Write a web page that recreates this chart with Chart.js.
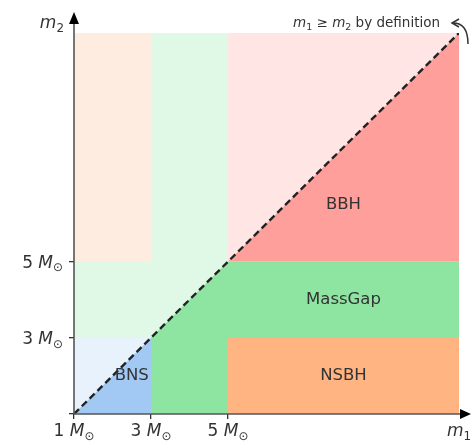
<!DOCTYPE html>
<html>
<head>
<meta charset="utf-8">
<script src="https://cdn.jsdelivr.net/npm/chart.js@4.4.0/dist/chart.umd.min.js"></script>
<style>
  body { margin: 0; background: #fff; }
</style>
</head>
<body>
<canvas id="massChart" width="471" height="441"></canvas>
<script>
// region edges in solar masses: lower limit, NS max, gap end, upper limit
const massEdges = [1, 3, 5, 11];
const tickValues = [1, 3, 5];
const categories = ['BNS', 'NSBH', 'MassGap', 'BBH'];
// where each category name sits (data units)
const labelX = [2.5, 8, 8, 8];
const labelY = [2, 2, 4, 6.5];

const pastel = { BNS: '#a1c9f4', NSBH: '#ffb482', MassGap: '#8de5a1', BBH: '#ff9f9b' };

function faded(hex, a) {
  const n = parseInt(hex.slice(1), 16);
  const c = [n >> 16, (n >> 8) & 255, n & 255].map(v => Math.round(v * a + 255 * (1 - a)));
  return `rgb(${c[0]},${c[1]},${c[2]})`;
}

const [lo, ns, gap, hi] = massEdges;

function area(points, base, color, order) {
  return {
    data: points.map(p => ({ x: p[0], y: p[1] })),
    backgroundColor: color,
    borderColor: 'transparent',
    borderWidth: 0,
    pointRadius: 0,
    tension: 0,
    fill: { value: base },
    order: order
  };
}

const datasets = [
  // faded tiles (the m2 > m1 half)
  area([[lo, hi], [hi, hi]], lo, faded(pastel.MassGap, 0.27), 20),
  area([[lo, ns], [ns, ns]], lo, faded(pastel.BNS, 0.25), 15),
  area([[lo, hi], [ns, hi]], gap, faded(pastel.NSBH, 0.25), 15),
  area([[gap, hi], [hi, hi]], gap, faded(pastel.BBH, 0.27), 15),
  // real regions below the diagonal
  area([[lo, lo], [ns, ns]], lo, pastel.BNS, 10),
  area([[ns, ns], [gap, gap], [hi, gap]], lo, pastel.MassGap, 10),
  area([[gap, ns], [hi, ns]], lo, pastel.NSBH, 5),
  area([[gap, gap], [hi, hi]], gap, pastel.BBH, 5),
  {
    data: [{ x: lo, y: lo }, { x: hi, y: hi }],
    borderColor: '#222',
    borderWidth: 2.4,
    borderDash: [7, 4],
    pointRadius: 0,
    fill: false,
    order: 0
  }
];

function fontFor(style, size) {
  if (style === 'i') return `italic ${size}px "DejaVu Sans"`;
  if (style === 'sub') return `${size * 0.7}px "DejaVu Sans"`;
  return `${size}px "DejaVu Sans"`;
}

function drawMath(ctx, parts, x, y, align, size, color) {
  const widths = parts.map(([t, st]) => { ctx.font = fontFor(st, size); return ctx.measureText(t).width; });
  const total = widths.reduce((a, b) => a + b, 0);
  let cx = align === 'right' ? x - total : align === 'center' ? x - total / 2 : x;
  ctx.fillStyle = color;
  ctx.textAlign = 'left';
  ctx.textBaseline = 'alphabetic';
  parts.forEach(([t, st], k) => {
    ctx.font = fontFor(st, size);
    ctx.fillText(t, cx, y + (st === 'sub' ? size * 0.22 : 0));
    cx += widths[k];
  });
}

const decorations = {
  id: 'decorations',
  afterDatasetsDraw(chart) {
    const { ctx, chartArea: ca, scales: { x, y } } = chart;
    ctx.save();
    // category names
    ctx.font = '16.5px "DejaVu Sans"';
    ctx.fillStyle = '#333';
    ctx.textAlign = 'center';
    ctx.textBaseline = 'middle';
    categories.forEach((c, i) => {
      ctx.fillText(c, x.getPixelForValue(labelX[i]), y.getPixelForValue(labelY[i]));
    });

    // axis lines with arrow heads
    ctx.strokeStyle = '#555';
    ctx.lineWidth = 1.6;
    ctx.beginPath();
    ctx.moveTo(ca.left, ca.bottom);
    ctx.lineTo(ca.left, 22);
    ctx.moveTo(ca.left, ca.bottom);
    ctx.lineTo(463, ca.bottom);
    ctx.stroke();
    ctx.fillStyle = '#000';
    ctx.beginPath();
    ctx.moveTo(ca.left, 12);
    ctx.lineTo(ca.left - 5, 24);
    ctx.lineTo(ca.left + 5, 24);
    ctx.closePath();
    ctx.fill();
    ctx.beginPath();
    ctx.moveTo(471, ca.bottom);
    ctx.lineTo(460, ca.bottom - 5);
    ctx.lineTo(460, ca.bottom + 5);
    ctx.closePath();
    ctx.fill();

    // tick labels
    const sun = v => [[v + ' ', 'n'], ['M', 'i'], ['\u2299', 'sub']];
    x.ticks.forEach(t => {
      drawMath(ctx, sun(t.value), x.getPixelForValue(t.value), 436, 'center', 17, '#333');
    });
    y.ticks.forEach(t => {
      if (t.value === lo) return;
      drawMath(ctx, sun(t.value), 63, y.getPixelForValue(t.value) + 6, 'right', 17, '#333');
    });

    // axis names
    drawMath(ctx, [['m', 'i'], ['2', 'sub']], 64, 28, 'right', 17, '#333');
    drawMath(ctx, [['m', 'i'], ['1', 'sub']], 447, 436, 'left', 17, '#333');

    // note with curved arrow
    drawMath(ctx, [['m', 'i'], ['1', 'sub'], [' \u2265 ', 'n'], ['m', 'i'], ['2', 'sub'], [' by definition', 'n']],
      440, 27, 'right', 13.5, '#333');
    ctx.strokeStyle = '#333';
    ctx.lineWidth = 1.5;
    ctx.beginPath();
    ctx.moveTo(468, 44);
    ctx.quadraticCurveTo(468, 23, 453, 23);
    ctx.moveTo(459, 19);
    ctx.lineTo(452, 23);
    ctx.lineTo(459, 27);
    ctx.stroke();
    ctx.restore();
  }
};

new Chart(document.getElementById('massChart'), {
  type: 'line',
  data: { datasets: datasets },
  options: {
    responsive: false,
    animation: false,
    events: [],
    layout: { padding: { top: 33, right: 12, left: 0, bottom: 0 } },
    plugins: { legend: { display: false }, tooltip: { enabled: false } },
    scales: {
      x: {
        type: 'linear',
        min: lo,
        max: hi,
        afterBuildTicks: s => { s.ticks = tickValues.map(v => ({ value: v })); },
        afterFit: s => { s.height = 27; },
        ticks: { display: false },
        grid: { drawOnChartArea: false, drawTicks: true, tickLength: 5, color: '#333', lineWidth: 1.3 },
        border: { display: false }
      },
      y: {
        type: 'linear',
        min: lo,
        max: hi,
        afterBuildTicks: s => { s.ticks = tickValues.map(v => ({ value: v })); },
        afterFit: s => { s.width = 74; },
        ticks: { display: false },
        grid: { drawOnChartArea: false, drawTicks: true, tickLength: 5, color: '#333', lineWidth: 1.3 },
        border: { display: false }
      }
    }
  },
  plugins: [decorations]
});
</script>
</body>
</html>
